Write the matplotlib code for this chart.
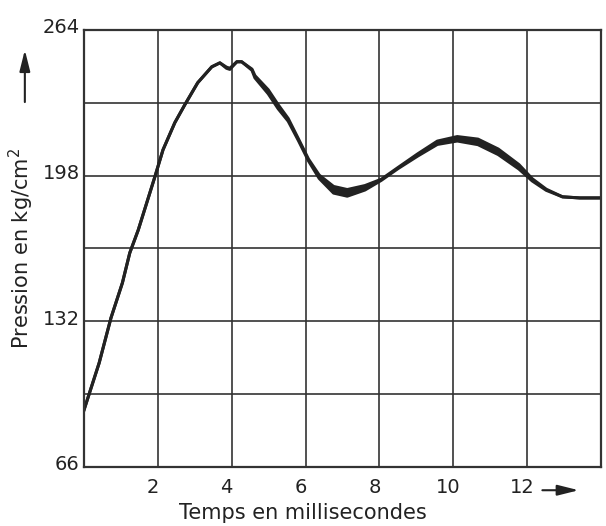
import numpy as np
import matplotlib.pyplot as plt
import matplotlib.transforms as mtransforms

# pressure trace (time in ms, pressure in kg/cm2)
temps = [0.0, 0.41, 0.73, 1.04, 1.24, 1.47, 1.92, 2.14, 2.46, 2.73, 3.08, 3.46,
         3.68, 3.86, 3.95, 4.14, 4.27, 4.55, 4.63, 4.99, 5.26, 5.53, 5.81, 6.08,
         6.37, 6.76, 7.13, 7.61, 8.05, 8.51, 9.04, 9.57, 10.11, 10.67, 11.22,
         11.78, 12.14, 12.52, 12.96, 13.43, 14.0]
pression = [91.8, 113.1, 133.5, 149.4, 163.0, 173.4, 197.5, 209.7, 222.0, 230.1,
            240.1, 247.3, 249.1, 246.9, 246.4, 249.6, 249.6, 246.0, 242.8, 236.0,
            229.2, 223.3, 214.2, 205.1, 197.5, 191.6, 190.2, 192.5, 196.1, 201.5,
            207.4, 212.9, 214.7, 213.3, 208.8, 202.0, 196.1, 191.6, 188.4, 187.9,
            187.9]
# width of the smeared band of the trace
bande = [0, 0, 0, 0, 0, 0, 0, 0, 0, 0, 0, 0, 0, 0.5, 0.5, 0, 0, 0.5, 1.0, 1.8,
         1.8, 1.2, 0.8, 0.8, 1.5, 3.0, 3.0, 2.0, 0.5, 0.5, 1.0, 1.5, 2.0, 2.5,
         2.5, 2.0, 1.0, 0.5, 0, 0, 0]

xticks = [2, 4, 6, 8, 10, 12]
ygrid = [99, 132, 165, 198, 231]
ylabels = [66, 132, 198, 264]

t = np.array(temps)
p = np.array(pression)
b = np.array(bande)

fig = plt.figure(figsize=(6.06, 5.26), dpi=100)
ax = fig.add_axes([0.1386, 0.1122, 0.853, 0.8308])

ink = '#222222'
ax.fill_between(t, p - b / 2, p + b / 2, color=ink, lw=0)
ax.plot(t, p + b / 2, color=ink, lw=2.2, solid_joinstyle='round')
ax.plot(t, p - b / 2, color=ink, lw=2.2, solid_joinstyle='round')

for x in xticks:
    ax.axvline(x, color='#333333', lw=1.2, zorder=0)
for y in ygrid:
    ax.axhline(y, color='#333333', lw=1.2, zorder=0)

ax.set_xlim(0, 14)
ax.set_ylim(66, 264)
for s in ax.spines.values():
    s.set_linewidth(1.6)
    s.set_color('#333333')

ax.set_xticks(xticks)
ax.set_xticklabels([str(v) for v in xticks], fontsize=14, color=ink)
ax.set_yticks(ylabels)
ax.set_yticklabels([str(v) for v in ylabels], fontsize=14, color=ink)
ax.tick_params(length=0, pad=8)
ax.tick_params(axis='y', pad=3)

# hand lettering sits a bit off the grid lines
for lab in ax.get_xticklabels():
    lab.set_transform(lab.get_transform() +
                      mtransforms.ScaledTranslation(-0.05, 0, fig.dpi_scale_trans))
for lab in ax.get_yticklabels():
    lab.set_transform(lab.get_transform() +
                      mtransforms.ScaledTranslation(0, 0.04, fig.dpi_scale_trans))

fig.text(0.50, 0.006, "Temps en millisecondes", fontsize=15, ha='center',
         va='bottom', color=ink)
fig.text(0.036, 0.5285, "Pression en kg/cm$^2$", fontsize=15, rotation=90,
         ha='center', va='center', color=ink)

# arrows next to the axis titles
arrow = dict(arrowstyle='-|>,head_length=0.8,head_width=0.2', color=ink,
             lw=1.5, mutation_scale=16, shrinkA=0, shrinkB=0)
ax.annotate("", xy=(0.041, 0.905), xytext=(0.041, 0.806),
            xycoords='figure fraction', arrowprops=arrow)
ax.annotate("", xy=(0.955, 0.068), xytext=(0.895, 0.068),
            xycoords='figure fraction', arrowprops=arrow)

fig.savefig("out.png", dpi=100)
